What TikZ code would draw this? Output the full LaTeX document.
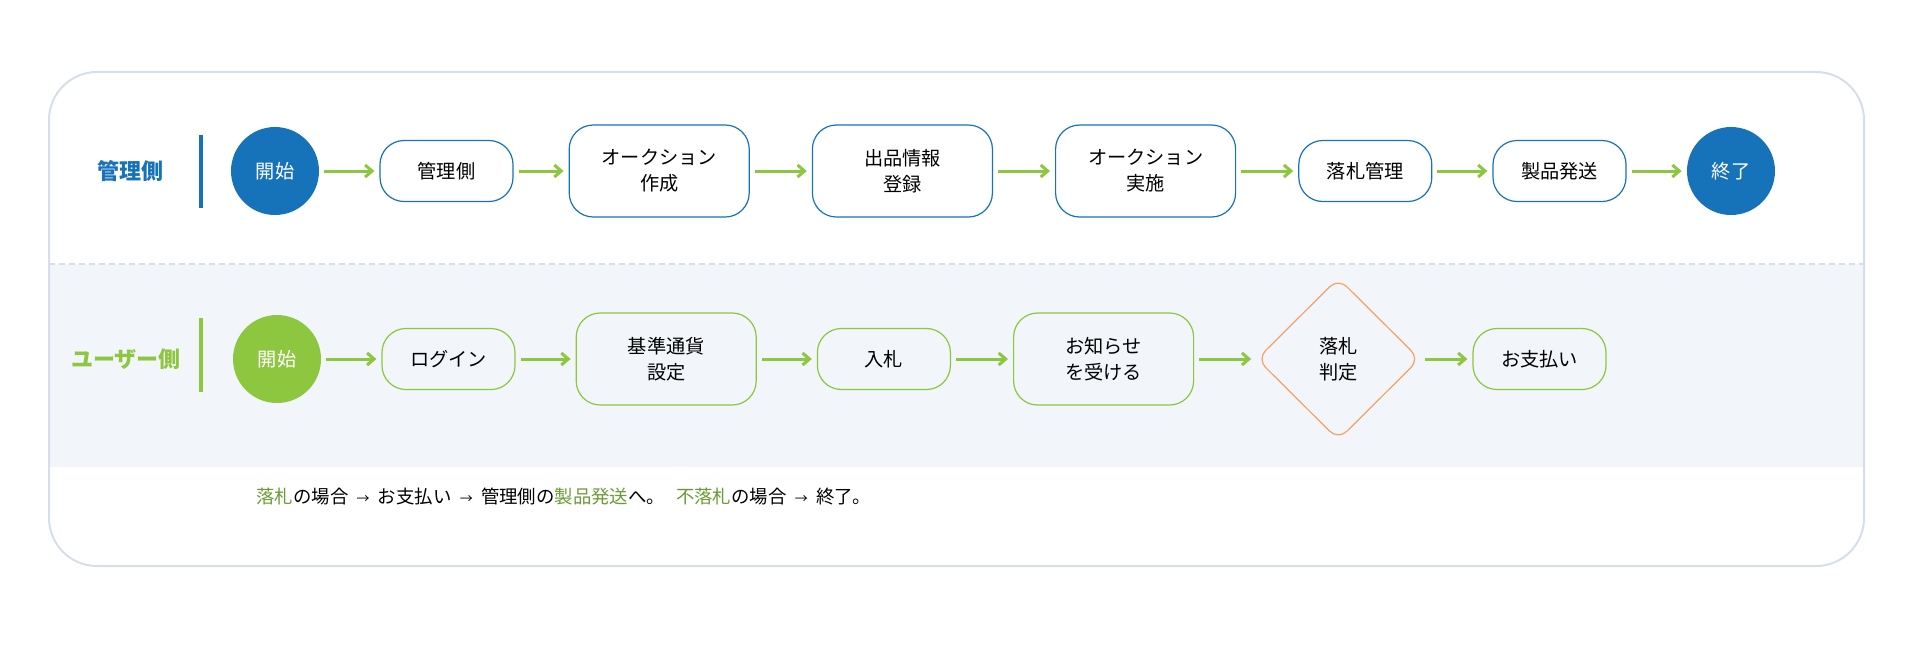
\documentclass[tikz,border=0pt]{standalone}
\usepackage{fontspec}
\setmainfont{Noto Sans CJK JP}
\usetikzlibrary{positioning,shapes.geometric,arrows.meta}

\definecolor{mgrblue}{HTML}{1773B9}
\definecolor{usergreen}{HTML}{8DC63F}
\definecolor{notegreen}{HTML}{6A9B34}
\definecolor{judgeorange}{HTML}{F5A066}
\definecolor{lanegray}{HTML}{F2F5F9}
\definecolor{framegray}{HTML}{D6DFE9}

\newcommand\flowfont{\fontsize{9.6pt}{13pt}\selectfont}
\newcommand\notearrow{\hspace{0.45em}{\fontsize{6.5pt}{7pt}\selectfont →}\hspace{0.45em}}

\tikzset{
    startnode/.style={circle, minimum size=44pt, inner sep=0pt, text=white, font=\flowfont},
    procbox/.style={rounded corners=12pt, draw, line width=0.6pt, inner sep=0pt,
        minimum width=66.5pt, minimum height=30.5pt, align=center, font=\flowfont},
    bigbox/.style={procbox, minimum width=90pt, minimum height=46pt},
    judgebox/.style={diamond, draw=judgeorange, line width=0.6pt, rounded corners=6pt,
        inner sep=0pt, minimum width=81.5pt, minimum height=81pt, align=center, font=\flowfont},
    flow/.style={-{Straight Barb[length=3.5pt,width=6pt]}, line width=1.5pt, draw=usergreen,
        shorten <=2.5pt, shorten >=2.5pt},
    lanelabel/.style={font=\bfseries\fontsize{11pt}{13pt}\selectfont},
    lanebar/.style={line width=1.6pt},
}

\begin{document}
\begin{tikzpicture}[x=0.5pt, y=-0.5pt, node distance=30pt]
    \useasboundingbox (0,0) rectangle (1920,650);
    % The user lane is shaded, the frame is clipped round it
    \begin{scope}
        \clip[rounded corners=24pt] (49,72) rectangle (1864,566);
        \fill[lanegray] (49,264) rectangle (1864,467);
    \end{scope}
    \draw[framegray, line width=0.8pt, dash pattern=on 3pt off 2pt] (49,264) -- (1864,264);
    \draw[framegray, line width=1pt, rounded corners=24pt] (49,72) rectangle (1864,566);

    % Lane titles with their bars
    \node[lanelabel, text=mgrblue] (mgrlabel) at (130,171) {管理側};
    \draw[lanebar, mgrblue] (201,135) -- (201,208);
    \node[lanelabel, text=usergreen] (userlabel) at (126,359) {ユーザー側};
    \draw[lanebar, usergreen] (201,318) -- (201,392);

    % Admin lane
    \node[startnode, fill=mgrblue] (mstart) at (275,171) {開始};
    \node[procbox, draw=mgrblue, right=of mstart] (mside) {管理側};
    \node[bigbox, draw=mgrblue, right=27.5pt of mside] (mcreate) {オークション\\作成};
    \node[bigbox, draw=mgrblue, right=31pt of mcreate] (mlist) {出品情報\\登録};
    \node[bigbox, draw=mgrblue, right=31pt of mlist] (mrun) {オークション\\実施};
    \node[procbox, draw=mgrblue, right=31pt of mrun] (mwin) {落札管理};
    \node[procbox, draw=mgrblue, right=of mwin] (mship) {製品発送};
    \node[startnode, fill=mgrblue, right=of mship] (mend) {終了};

    % User lane
    \node[startnode, fill=usergreen] (ustart) at (277,359) {開始};
    \node[procbox, draw=usergreen, right=of ustart] (ulogin) {ログイン};
    \node[bigbox, draw=usergreen, right=of ulogin] (ucurrency) {基準通貨\\設定};
    \node[procbox, draw=usergreen, right=of ucurrency] (ubid) {入札};
    \node[bigbox, draw=usergreen, right=31pt of ubid] (unotice) {お知らせ\\を受ける};
    \node[judgebox, right=31pt of unotice] (ujudge) {落札\\判定};
    \node[procbox, draw=usergreen, right=26pt of ujudge] (upay) {お支払い};

    % Arrows along both lanes
    \foreach \a/\b in {mstart/mside, mside/mcreate, mcreate/mlist, mlist/mrun,
        mrun/mwin, mwin/mship, mship/mend,
        ustart/ulogin, ulogin/ucurrency, ucurrency/ubid, ubid/unotice,
        unotice/ujudge, ujudge/upay}
        \draw[flow] (\a) -- (\b);

    % Note under the lanes
    \node[anchor=base west, inner sep=0pt, font=\fontsize{9.2pt}{11pt}\selectfont] (note) at (256,503)
        {\textcolor{notegreen}{落札}の場合\notearrow お支払い\notearrow 管理側の\textcolor{notegreen}{製品発送}へ。\hspace{0.6em}\textcolor{notegreen}{不落札}の場合\notearrow 終了。};
\end{tikzpicture}
\end{document}
